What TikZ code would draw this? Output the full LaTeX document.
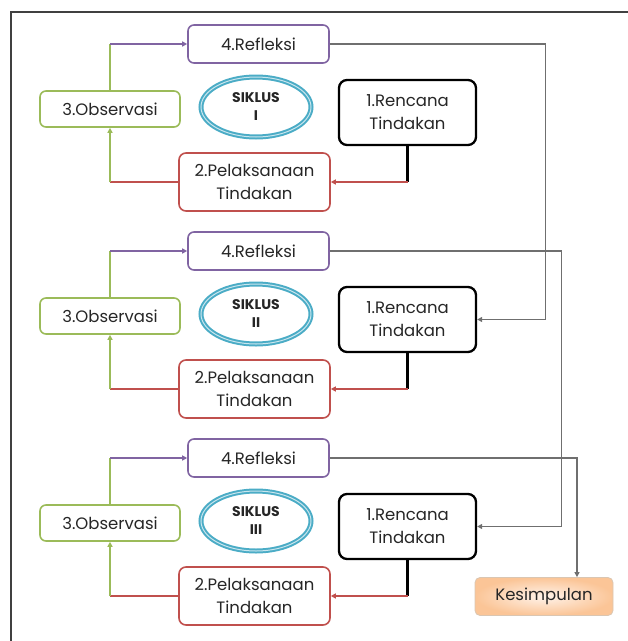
\documentclass[tikz,border=0pt]{standalone}
\usepackage{fontspec}
\setmainfont{Poppins}
\usetikzlibrary{arrows.meta,calc,shapes.geometric}

\definecolor{refcol}{HTML}{8064A2}
\definecolor{obscol}{HTML}{9BBB59}
\definecolor{pelcol}{HTML}{C0504D}
\definecolor{sikcol}{HTML}{4BACC6}
\definecolor{backcol}{HTML}{6F6F6F}
\definecolor{keslight}{HTML}{FFF3EA}
\definecolor{kesdark}{HTML}{FBC597}

\tikzset{
	every node/.style={font=\fontsize{16.5}{23}\selectfont, text=black!85, align=center, inner sep=2pt},
	refbox/.style={draw=refcol, line width=1.6pt, rounded corners=6pt, minimum width=141pt, minimum height=38pt},
	obsbox/.style={draw=obscol, line width=1.6pt, rounded corners=6pt, minimum width=140pt, minimum height=36pt},
	renbox/.style={draw=black, line width=2.3pt, rounded corners=8pt, minimum width=137pt, minimum height=65pt},
	pelbox/.style={draw=pelcol, line width=1.6pt, rounded corners=7pt, minimum width=151pt, minimum height=58pt},
	sikoval/.style={ellipse, draw=sikcol, line width=2pt, double=sikcol!30, double distance=1pt, minimum width=110pt, minimum height=60pt, font=\fontsize{14}{18}\selectfont\bfseries},
	kesbox/.style={draw=orange!35!gray!45, line width=0.8pt, rounded corners=5pt, minimum width=138pt, minimum height=38pt, inner color=keslight, outer color=kesdark},
	tip/.style={-{Triangle[length=5pt,width=5pt]}},
	refline/.style={draw=refcol, line width=1.6pt},
	obsline/.style={draw=obscol, line width=1.6pt},
	pelline/.style={draw=pelcol, line width=1.6pt},
	renline/.style={draw=black, line width=2.3pt},
	backline/.style={draw=backcol, line width=1.2pt}
}

\begin{document}
\begin{tikzpicture}[x=1pt, y=-1pt]
	%%%%% START %%%%%
	\useasboundingbox (0,0) rectangle (628,641);
	
	% frame
	\draw[line width=1.2pt, color=black!75] (628,12) -- (11,12) -- (11,641);
	
	% siklus I
	\node[refbox] (ref1) at (258.5,44) {4.Refleksi};
	\node[obsbox] (obs1) at (110,109) {3.Observasi};
	\node[sikoval] (sik1) at (256,107) {SIKLUS\\I};
	\node[renbox] (ren1) at (407.5,112.5) {1.Rencana\\Tindakan};
	\node[pelbox] (pel1) at (254.5,182) {2.Pelaksanaan\\Tindakan};
	
	% siklus II
	\node[refbox] (ref2) at (258.5,251) {4.Refleksi};
	\node[obsbox] (obs2) at (110,316) {3.Observasi};
	\node[sikoval] (sik2) at (256,314) {SIKLUS\\II};
	\node[renbox] (ren2) at (407.5,319.5) {1.Rencana\\Tindakan};
	\node[pelbox] (pel2) at (254.5,389) {2.Pelaksanaan\\Tindakan};
	
	% siklus III
	\node[refbox] (ref3) at (258.5,458) {4.Refleksi};
	\node[obsbox] (obs3) at (110,523) {3.Observasi};
	\node[sikoval] (sik3) at (256,521) {SIKLUS\\III};
	\node[renbox] (ren3) at (407.5,526.5) {1.Rencana\\Tindakan};
	\node[pelbox] (pel3) at (254.5,596) {2.Pelaksanaan\\Tindakan};
	
	\node[kesbox] (kes) at (544,596.5) {Kesimpulan};
	
	% arrows inside the cycles
	\foreach \i in {1,2,3}{
		\coordinate (up\i) at (obs\i.north |- ref\i.west);
		\coordinate (down\i) at (obs\i.south |- pel\i.west);
		\coordinate (turn\i) at (ren\i.south |- pel\i.east);
		\draw[obsline] (obs\i.north) -- (up\i);
		\draw[refline, tip] (up\i) -- (ref\i.west);
		\draw[pelline] (pel\i.west) -- (down\i);
		\draw[obsline, tip] (down\i) -- (obs\i.south);
		\draw[renline] (ren\i.south) -- (turn\i);
		\draw[pelline, tip] (turn\i) -- (pel\i.east);
	}
	
	% from one cycle to the next
	\draw[backline, tip] (ref1.east) -- ++(216,0) |- (ren2.east);
	\draw[backline, tip] (ref2.east) -- ++(232,0) |- (ren3.east);
	\draw[backline, tip] (ref3.east) -| ($(kes.north)+(33,0)$);
	
	%%%%% END %%%%%
\end{tikzpicture}
\end{document}
